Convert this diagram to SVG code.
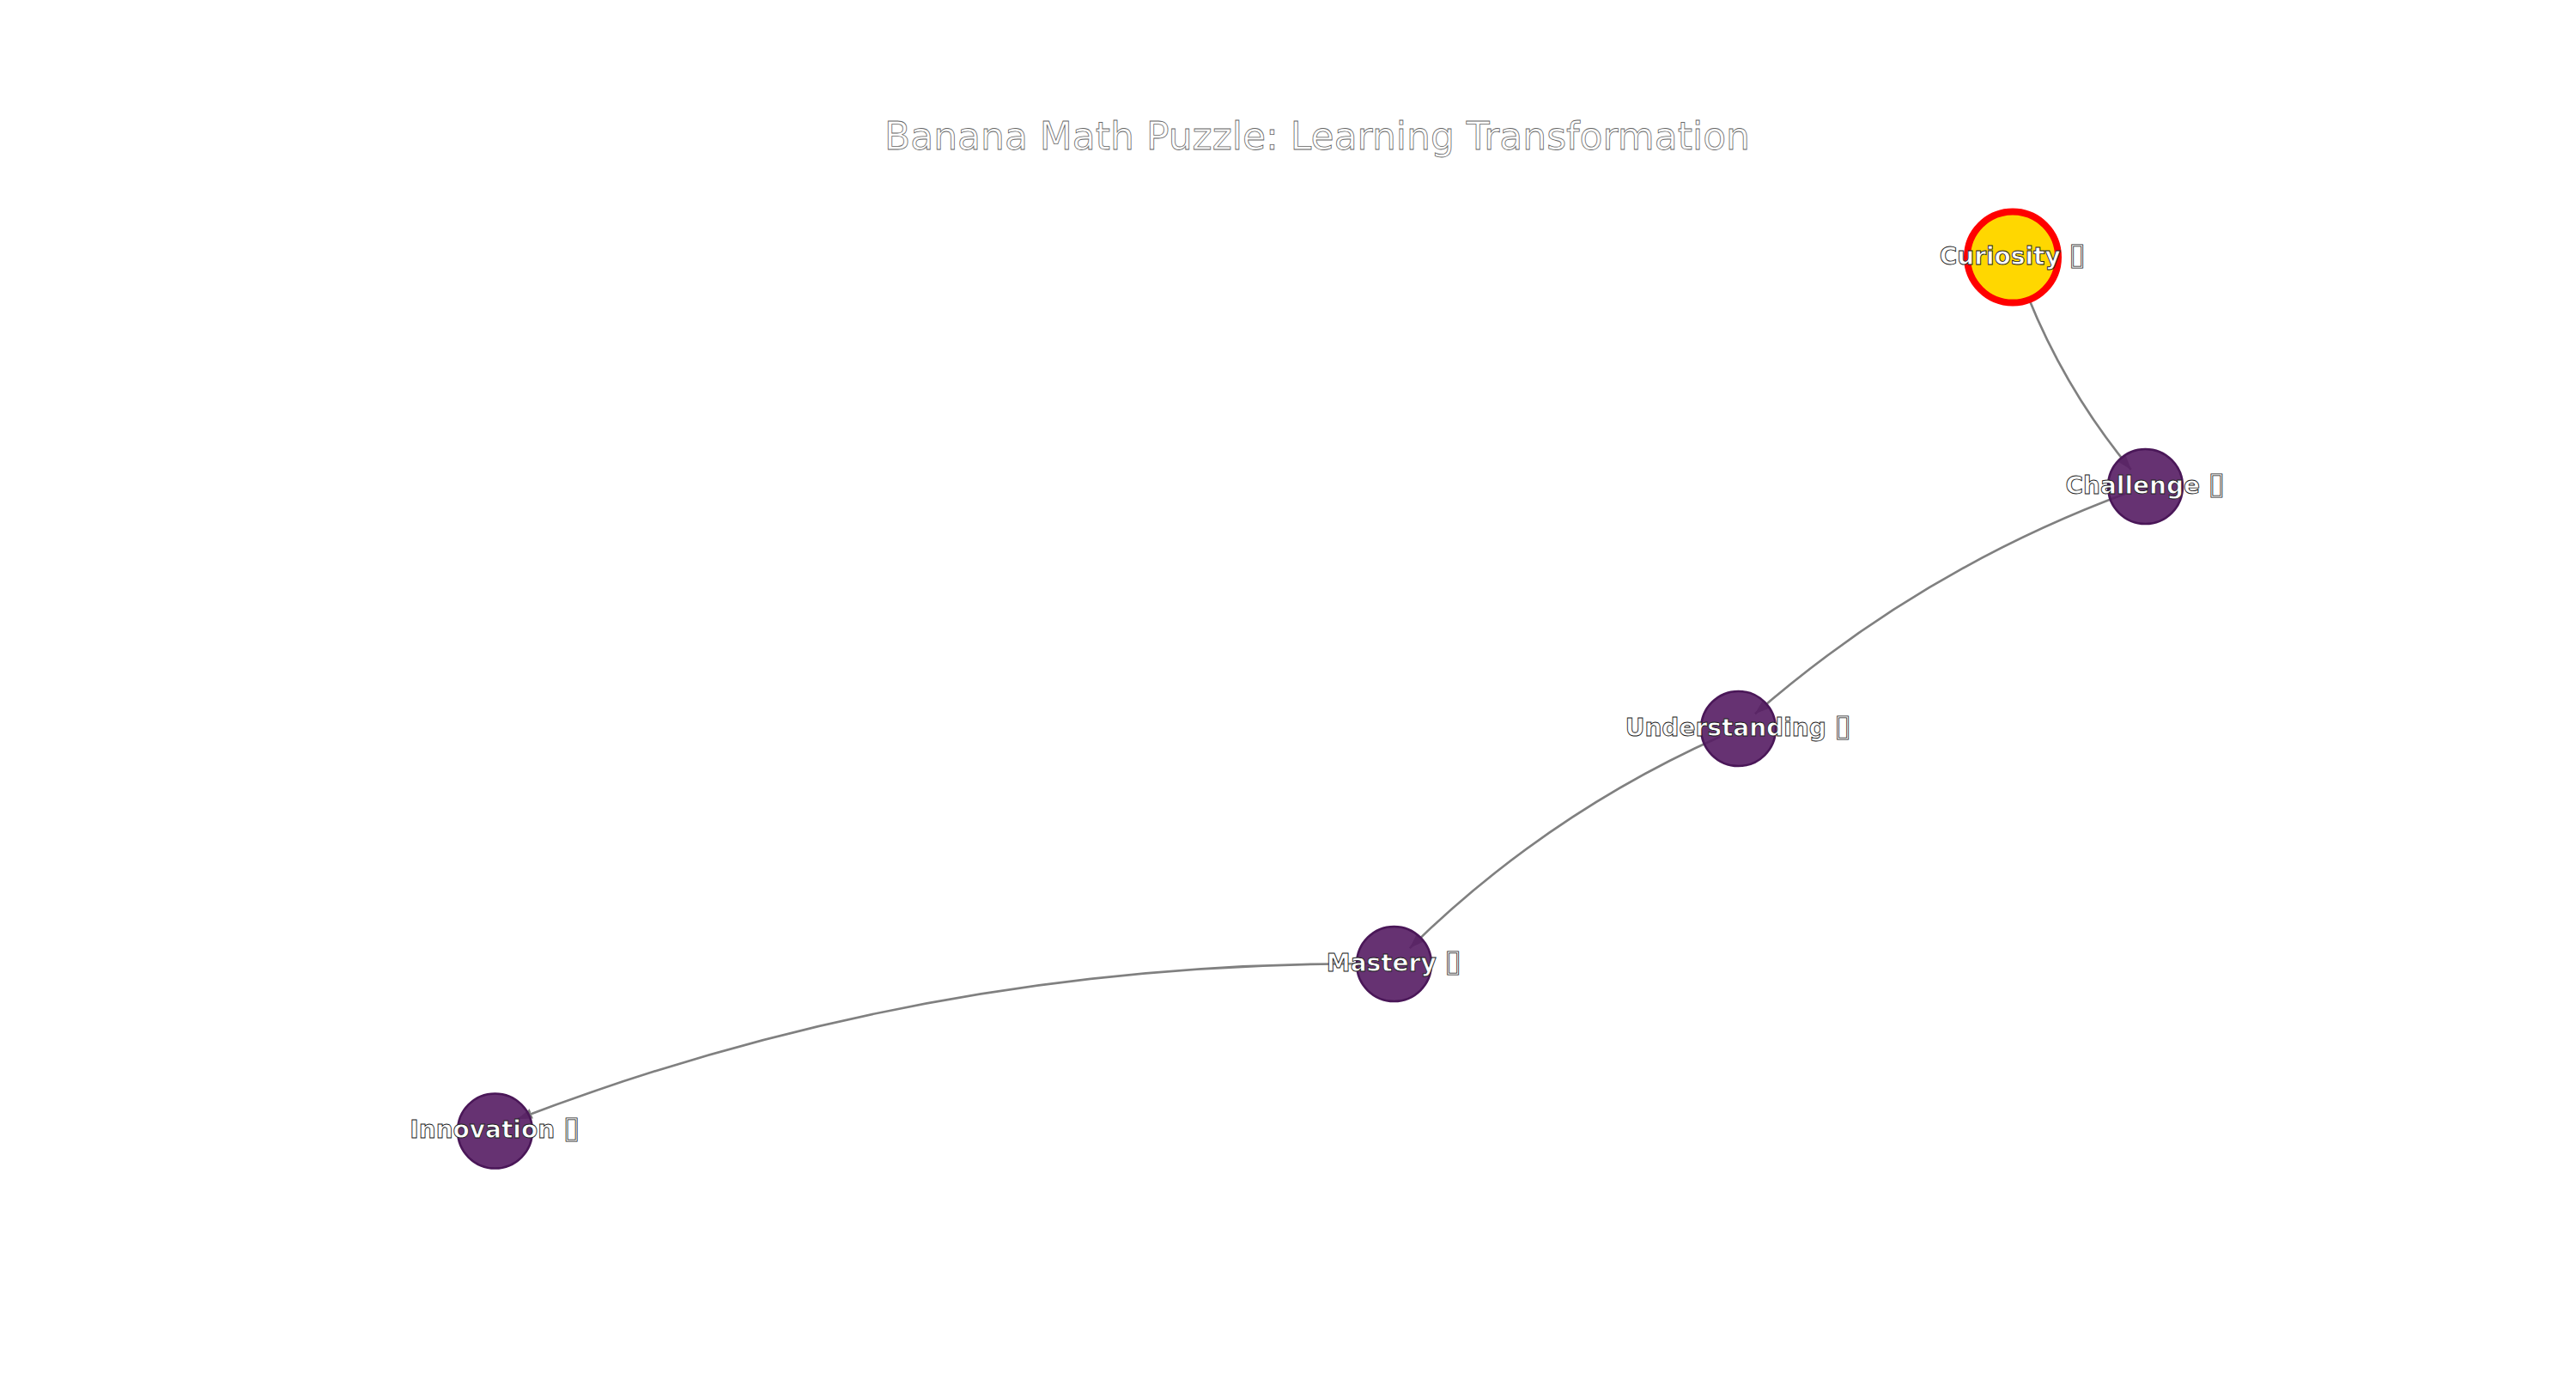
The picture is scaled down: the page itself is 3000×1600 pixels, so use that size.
<svg xmlns="http://www.w3.org/2000/svg" width="3000" height="1600" viewBox="0 0 3000 1600">
  <style>
    .title { font-family: "DejaVu Sans", "Noto Sans", sans-serif; font-size: 44px; fill: #ffffff; stroke: #666666; stroke-width: 0.8; text-anchor: middle; }
    .edge { fill: none; stroke: #808080; stroke-width: 2.6; }
    .node { fill: #551c63; fill-opacity: 0.9; stroke: #4a1758; stroke-width: 2.5; }
    .start { fill: #ffd700; stroke: #ff0000; stroke-width: 8; }
    .label { font-family: "DejaVu Sans", "Noto Sans", sans-serif; font-size: 28px; font-weight: bold; fill: #ffffff; stroke: #222222; stroke-width: 0.9; text-anchor: middle; }
    .box { font-weight: normal; font-size: 36px; stroke-width: 0.8; }
  </style>
  <defs>
    <marker id="arrow" markerUnits="userSpaceOnUse" markerWidth="18" markerHeight="12" refX="17" refY="6" orient="auto">
      <path d="M0,0 L17,6 L0,12 z" fill="#808080"/>
    </marker>
  </defs>
  <rect x="0" y="0" width="3000" height="1600" fill="#ffffff"/>
  <text class="title" x="1534" y="174">Banana Math Puzzle: Learning Transformation</text>
  <g id="connectors">
    <path class="edge" marker-end="url(#arrow)" d="M2352.5,321.2 Q2397.7,445.0 2481.7,546.8"/>
    <path class="edge" marker-end="url(#arrow)" d="M2476.9,574.3 Q2236.9,663.3 2043.9,831.3"/>
    <path class="edge" marker-end="url(#arrow)" d="M2003.4,857.7 Q1800.4,948.4 1641.8,1104.1"/>
    <path class="edge" marker-end="url(#arrow)" d="M1600.5,1122.3 Q1082.9,1119.4 603,1303"/>
  </g>
  <g id="node-curiosity">
    <circle class="start" cx="2344" cy="299.5" r="53"/>
    <text class="label" x="2344" y="307.5">Curiosity <tspan class="box">▯</tspan></text>
  </g>
  <g id="node-challenge">
    <circle class="node" cx="2498.5" cy="566.5" r="43.5"/>
    <text class="label" x="2498.5" y="574.5">Challenge <tspan class="box">▯</tspan></text>
  </g>
  <g id="node-understanding">
    <circle class="node" cx="2024.5" cy="848.5" r="43.5"/>
    <text class="label" x="2024.5" y="856.5">Understanding <tspan class="box">▯</tspan></text>
  </g>
  <g id="node-mastery">
    <circle class="node" cx="1623.5" cy="1122.5" r="43.5"/>
    <text class="label" x="1623.5" y="1130.5">Mastery <tspan class="box">▯</tspan></text>
  </g>
  <g id="node-innovation">
    <circle class="node" cx="576.5" cy="1317" r="43.5"/>
    <text class="label" x="576.5" y="1325">Innovation <tspan class="box">▯</tspan></text>
  </g>
</svg>
